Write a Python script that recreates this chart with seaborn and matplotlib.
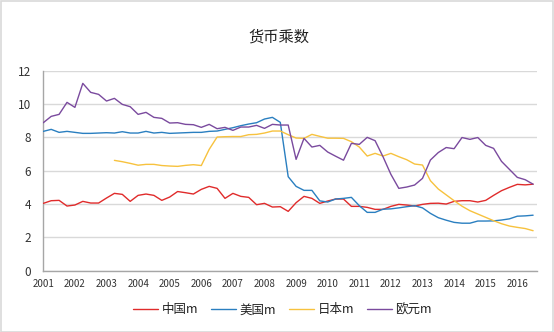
import numpy as np
import pandas as pd
import matplotlib
matplotlib.use("Agg")
import matplotlib.pyplot as plt
from matplotlib.lines import Line2D
from matplotlib.patches import Rectangle
import seaborn as sns

# ---------------- data (quarterly, 2001Q1 .. 2016Q3) ----------------
start_year = 2001
n_quarters = 63
title = "货币乘数"
series_names = ["中国m", "美国m", "日本m", "欧元m"]
year_ticks = list(range(2001, 2017))
y_ticks = [0, 2, 4, 6, 8, 10, 12]

china_m = [4.04, 4.20, 4.22, 3.88, 3.94, 4.16, 4.06, 4.06, 4.36, 4.64,
           4.58, 4.16, 4.52, 4.60, 4.52, 4.22, 4.42, 4.75, 4.68, 4.60,
           4.88, 5.06, 4.94, 4.34, 4.64, 4.46, 4.40, 3.96, 4.04, 3.82,
           3.84, 3.56, 4.08, 4.46, 4.34, 4.04, 4.18, 4.30, 4.30, 3.86,
           3.86, 3.80, 3.68, 3.68, 3.86, 3.98, 3.94, 3.88, 3.98, 4.04,
           4.05, 4.00, 4.16, 4.20, 4.20, 4.12, 4.22, 4.52, 4.80, 5.00,
           5.18, 5.15, 5.19]

usa_m = [8.36, 8.48, 8.30, 8.36, 8.30, 8.24, 8.24, 8.26, 8.28, 8.26,
         8.34, 8.26, 8.26, 8.36, 8.26, 8.30, 8.24, 8.26, 8.28, 8.30,
         8.30, 8.36, 8.38, 8.48, 8.58, 8.70, 8.80, 8.88, 9.10, 9.20,
         8.90, 5.64, 5.06, 4.82, 4.82, 4.19, 4.12, 4.30, 4.34, 4.40,
         3.90, 3.50, 3.50, 3.69, 3.71, 3.77, 3.84, 3.90, 3.77, 3.44,
         3.18, 3.03, 2.90, 2.85, 2.85, 2.98, 2.98, 2.99, 3.04, 3.11,
         3.27, 3.29, 3.33]

japan_m = [np.nan] * 9 + [
           6.62, 6.54, 6.44, 6.33, 6.38, 6.38, 6.31, 6.28, 6.26, 6.32,
           6.36, 6.31, 7.28, 8.02, 8.04, 8.05, 8.05, 8.16, 8.18, 8.26,
           8.38, 8.38, 8.16, 7.96, 7.94, 8.18, 8.06, 7.95, 7.95, 7.94,
           7.74, 7.42, 6.88, 7.04, 6.88, 7.04, 6.84, 6.66, 6.40, 6.34,
           5.40, 4.90, 4.55, 4.20, 3.87, 3.60, 3.40, 3.20, 3.00, 2.82,
           2.68, 2.60, 2.53, 2.40]

euro_m = [8.88, 9.26, 9.38, 10.10, 9.80, 11.24, 10.70, 10.58, 10.18, 10.34,
          9.98, 9.84, 9.38, 9.50, 9.20, 9.14, 8.86, 8.88, 8.78, 8.76,
          8.60, 8.78, 8.52, 8.60, 8.42, 8.62, 8.62, 8.72, 8.54, 8.78,
          8.74, 8.74, 6.68, 7.94, 7.42, 7.52, 7.12, 6.87, 6.63, 7.64,
          7.58, 8.00, 7.80, 6.84, 5.78, 4.94, 5.02, 5.14, 5.54, 6.64,
          7.09, 7.39, 7.32, 7.99, 7.88, 7.99, 7.52, 7.34, 6.56, 6.08,
          5.60, 5.46, 5.19]

colors = ["#e02b2b", "#2a7fc0", "#f7c23e", "#7a4a9e"]

# ---------------- build table ----------------
time = start_year + 0.25 * np.arange(n_quarters)
frames = []
for name, vals in zip(series_names, [china_m, usa_m, japan_m, euro_m]):
    frames.append(pd.DataFrame({"time": time, "value": vals, "series": name}))
df = pd.concat(frames, ignore_index=True).dropna()

# ---------------- style ----------------
sns.set_theme(style="white")
plt.rcParams["font.family"] = ["Noto Sans CJK SC", "DejaVu Sans"]

W, H = 554, 332
fig = plt.figure(figsize=(W / 100, H / 100), dpi=100)
fig.patch.set_facecolor("white")

left_px, right_px, top_px, bottom_px = 43.3, 537.0, 70.7, 270.7
ax = fig.add_axes([left_px / W, 1 - bottom_px / H,
                   (right_px - left_px) / W, (bottom_px - top_px) / H])

sns.lineplot(data=df, x="time", y="value", hue="series",
             hue_order=series_names, palette=colors, linewidth=1.0,
             legend=False, ax=ax, zorder=3)

ax.set_xlim(2001, 2001 + (right_px - left_px) / 31.6)
ax.set_ylim(0, 12)
ax.set_xticks(year_ticks)
ax.set_xticklabels([str(y) for y in year_ticks], fontsize=7, color="#333333")
ax.set_yticks(y_ticks)
ax.set_yticklabels([str(v) for v in y_ticks], fontsize=8.5, color="#333333")
ax.set_xlabel("")
ax.set_ylabel("")

ax.yaxis.grid(True, color="#d9d9d9", linewidth=1.0, zorder=0)
ax.xaxis.grid(False)
for s in ["top", "right"]:
    ax.spines[s].set_visible(False)
for s in ["left", "bottom"]:
    ax.spines[s].set_color("#a6a6a6")
    ax.spines[s].set_linewidth(1.0)
ax.tick_params(axis="both", which="major", direction="out", length=3,
               width=1.0, color="#a6a6a6")
ax.tick_params(axis="y", pad=6)
ax.tick_params(axis="x", pad=3)

fig.text(279 / W, 1 - 36.5 / H, title, ha="center", va="center",
         fontsize=11, color="#222222")

handles = [Line2D([0], [0], color=c, linewidth=1.0) for c in colors]
fig.legend(handles, series_names, loc="center",
           bbox_to_anchor=(282.5 / W, 1 - 310 / H), ncol=4, frameon=False,
           fontsize=9, handlelength=2.0, handletextpad=0.3,
           columnspacing=1.0, labelcolor="#222222")

fig.add_artist(Rectangle((0.5 / W, 0.5 / H), 1 - 1.5 / W, 1 - 1.5 / H,
                         transform=fig.transFigure, fill=False,
                         edgecolor="#d9d9d9", linewidth=1.2))

fig.savefig("out.png", dpi=100, facecolor="white")
